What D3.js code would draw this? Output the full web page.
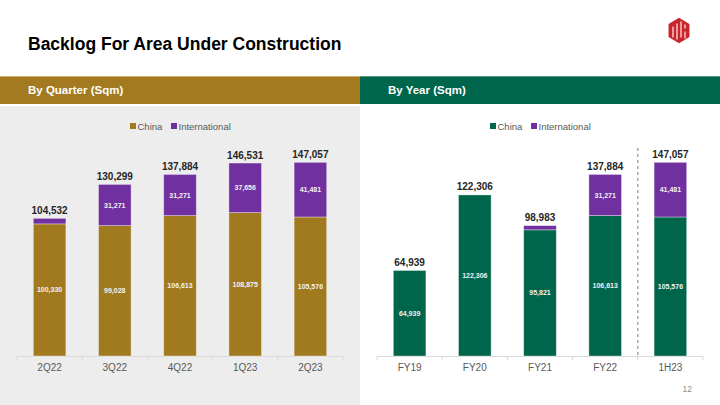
<!DOCTYPE html>
<html><head><meta charset="utf-8">
<script src="https://cdn.jsdelivr.net/npm/d3@7"></script>
<style>
html,body{margin:0;padding:0;background:#fff;}
svg{display:block;font-family:"Liberation Sans",Arial,sans-serif;}
</style></head>
<body>
<svg id="c" width="720" height="405"></svg>
<script>
// ---- data ----
const quarters = ["2Q22","3Q22","4Q22","1Q23","2Q23"];
const quarterChina = [100330, 99028, 106613, 108875, 105576];
const quarterIntl = [4202, 31271, 31271, 37656, 41481];
const quarterTotals = [104532, 130299, 137884, 146531, 147057];

const years = ["FY19","FY20","FY21","FY22","1H23"];
const yearChina = [64939, 122306, 95821, 106613, 105576];
const yearIntl = [0, 0, 3162, 31271, 41481];
const yearTotals = [64939, 122306, 98983, 137884, 147057];

const seriesNames = ["China","International"];

const GOLD = "#a17a20", GREEN = "#00664b", PURPLE = "#7030a0";
const fmt = d3.format(",");

const svg = d3.select("#c");

// title
svg.append("text").attr("x",28).attr("y",50).attr("font-size",17.5).attr("font-weight","bold")
  .attr("fill","#000").text("Backlog For Area Under Construction");

// logo
const logo = svg.append("g").attr("transform","translate(679,30.5)");
const hex = d3.range(6).map(i=>{const a=Math.PI/3*i - Math.PI/2; return [11.5*Math.cos(a)*1.05, 12.8*Math.sin(a)];});
logo.append("path").attr("d","M"+hex.map(p=>p.join(",")).join("L")+"Z").attr("fill","#c9252c");
logo.append("path").attr("d","M-6,-4 L-6,7 M-2,-7 L-2,9 M2,-9 L2,7 M6,-6 L6,-2 M6,1 L6,8")
  .attr("stroke","#fff").attr("stroke-width",1.1).attr("fill","none");

// header bars
svg.append("rect").attr("x",0).attr("y",76).attr("width",360).attr("height",28).attr("fill","#a37a1f");
svg.append("rect").attr("x",360).attr("y",76).attr("width",360).attr("height",28).attr("fill","#00664b");
svg.append("rect").attr("x",0).attr("y",76).attr("width",360).attr("height",1).attr("fill","#c9ae6e");
svg.append("rect").attr("x",360).attr("y",76).attr("width",360).attr("height",1).attr("fill","#5d9a86");
svg.append("text").attr("x",28).attr("y",94).attr("font-size",11.5).attr("font-weight","bold").attr("fill","#fff").text("By Quarter (Sqm)");
svg.append("text").attr("x",388).attr("y",94).attr("font-size",11.5).attr("font-weight","bold").attr("fill","#fff").text("By Year (Sqm)");

// left panel bg
svg.append("rect").attr("x",0).attr("y",106).attr("width",360).attr("height",299).attr("fill","#ededed");

// page number
svg.append("text").attr("x",692).attr("y",392).attr("text-anchor","end").attr("font-size",8.5).attr("fill","#8c8c8c").text("12");

const y = d3.scaleLinear().domain([0,160000]).range([356,145.3]);

function drawChart(x0, x1, cats, china, intl, totals, chinaColor) {
  const g = svg.append("g");
  const x = d3.scaleBand().domain(cats).range([x0,x1]).paddingInner(0.5).paddingOuter(0.25);
  // legend
  const lg = g.append("g");
  const cx = (x0+x1)/2;
  const items = [{n:seriesNames[0], c:chinaColor, x:cx-50},{n:seriesNames[1], c:PURPLE, x:cx-9}];
  items.forEach(it=>{
    lg.append("rect").attr("x",it.x).attr("y",123).attr("width",6).attr("height",6).attr("fill",it.c);
    lg.append("text").attr("x",it.x+7.5).attr("y",129.5).attr("font-size",9.5).attr("fill","#595959").text(it.n);
  });
  // axis
  g.append("line").attr("x1",x0).attr("x2",x1).attr("y1",356.5).attr("y2",356.5).attr("stroke","#d9d9d9").attr("stroke-width",1);
  d3.range(cats.length+1).forEach(i=>{
    const tx = x0 + i*x.step();
    g.append("line").attr("x1",tx).attr("x2",tx).attr("y1",356.5).attr("y2",360).attr("stroke","#d9d9d9");
  });
  g.selectAll(".cat").data(cats).enter().append("text")
    .attr("x",d=>x(d)+x.bandwidth()/2).attr("y",370.5).attr("text-anchor","middle")
    .attr("font-size",10).attr("fill","#595959").text(d=>d);
  // bars
  cats.forEach((c,i)=>{
    const bx = x(c), bw = x.bandwidth();
    g.append("rect").attr("x",bx).attr("y",y(china[i])).attr("width",bw).attr("height",y(0)-y(china[i]))
      .attr("fill",chinaColor).attr("stroke","rgba(255,255,255,0.45)").attr("stroke-width",0.8);
    if (intl[i]>0) {
      g.append("rect").attr("x",bx).attr("y",y(china[i]+intl[i])).attr("width",bw).attr("height",y(china[i])-y(china[i]+intl[i]))
        .attr("fill",PURPLE).attr("stroke","rgba(255,255,255,0.45)").attr("stroke-width",0.8);
    }
    g.append("text").attr("x",bx+bw/2).attr("y",(y(0)+y(china[i]))/2+2.5).attr("text-anchor","middle")
      .attr("font-size",7).attr("font-weight","bold").attr("fill","#f2f2f2").text(fmt(china[i]));
    if (intl[i]>10000) {
      g.append("text").attr("x",bx+bw/2).attr("y",(y(china[i])+y(china[i]+intl[i]))/2+2.5).attr("text-anchor","middle")
        .attr("font-size",7).attr("font-weight","bold").attr("fill","#f2f2f2").text(fmt(intl[i]));
    }
    g.append("text").attr("x",bx+bw/2).attr("y",y(totals[i])-4.5).attr("text-anchor","middle")
      .attr("font-size",10).attr("font-weight","bold").attr("fill","#262626").text(fmt(totals[i]));
  });
  return x;
}

drawChart(17, 343, quarters, quarterChina, quarterIntl, quarterTotals, GOLD);
const xr = drawChart(377, 703, years, yearChina, yearIntl, yearTotals, GREEN);

// dashed separator between FY22 and 1H23
const sepX = 377 + 4*xr.step();
svg.append("line").attr("x1",sepX).attr("x2",sepX).attr("y1",148).attr("y2",358)
  .attr("stroke","#a6a6a6").attr("stroke-width",1.5).attr("stroke-dasharray","3,3");
</script>
</body></html>
